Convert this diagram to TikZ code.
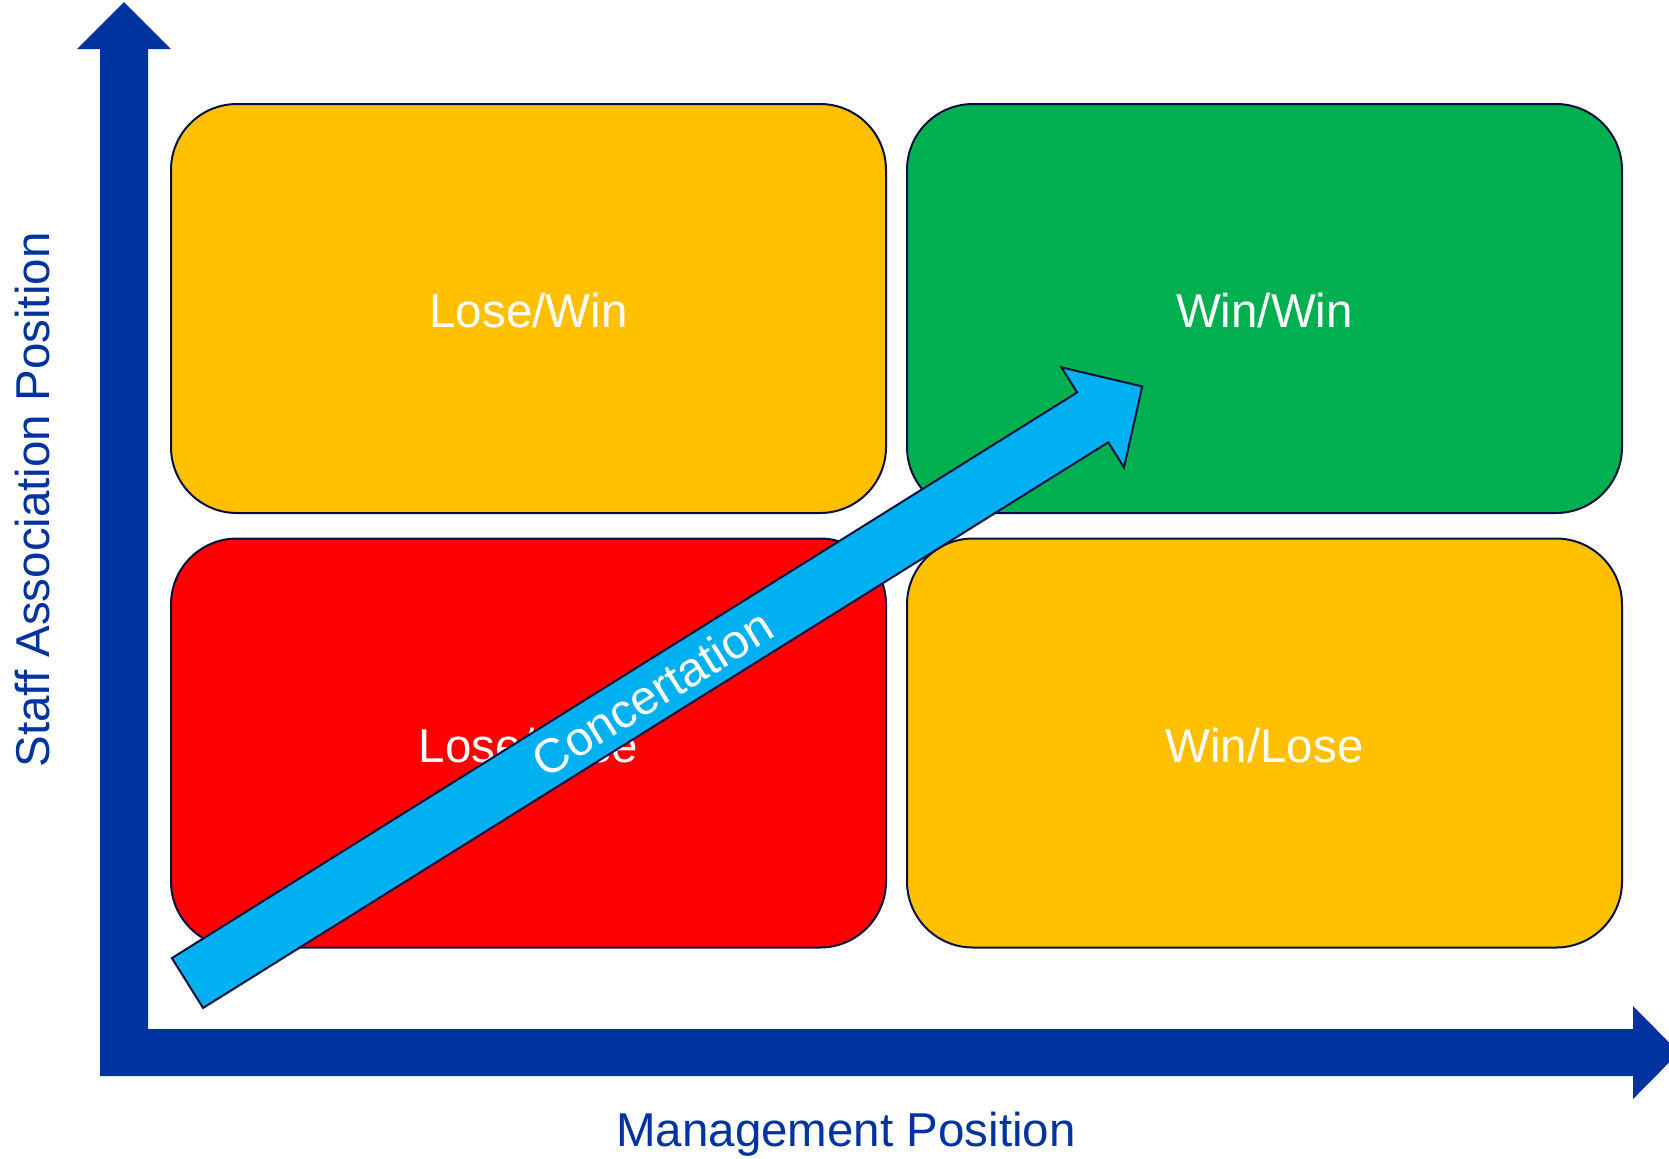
\documentclass[tikz,border=0pt]{standalone}
\usepackage{fontspec}
\setmainfont{Liberation Sans}
\usepackage{tikz}
\usepackage{xcolor}
\definecolor{axisblue}{RGB}{0,51,160}
\definecolor{navy}{RGB}{8,16,64}
\definecolor{amber}{RGB}{255,192,0}
\definecolor{leaf}{RGB}{0,176,80}
\definecolor{alarm}{RGB}{255,0,0}
\definecolor{sky}{RGB}{0,176,240}
\tikzstyle{quad} = [rectangle, draw = navy, line width = 1pt, rounded corners = 33pt, inner sep = 0pt, minimum width = 357.5pt, minimum height = 204.5pt, text height = 19pt, text depth = 0pt, text = white, font = \fontsize{23.75}{28}\selectfont]
\tikzstyle{concert} = [draw = navy, line width = 1pt, fill = sky]
\tikzstyle{axislabel} = [text = axisblue, inner sep = 0pt, font = \fontsize{23.75}{28}\selectfont]

\begin{document}
\begin{tikzpicture}[x = 0.5pt, y = -0.5pt]
        \useasboundingbox (0, 0) rectangle (1669, 1158);
        % axes
        \fill [axisblue] (100, 1076) -- (100, 49) -- (77, 49) -- (124, 2) -- (171, 49) -- (148, 49) -- (148, 1029) -- (1633, 1029) -- (1633, 1006) -- (1679, 1052.5) -- (1633, 1099) -- (1633, 1076) -- cycle;
        \node (ylab) at (33, 500) [axislabel, rotate = 90] {Staff Association Position};
        \node (xlab) at (846, 1146) [axislabel, anchor = base] {Management Position};
        % quadrants
        \node (lw) at (528.5, 308.5) [quad, fill = amber] {Lose/Win};
        \node (ww) at (1264.5, 308.5) [quad, fill = leaf] {Win/Win};
        \node (ll) at (528.5, 743) [quad, fill = alarm] {Lose/Lose};
        \node (wl) at (1264.5, 743) [quad, fill = amber] {Win/Lose};
        % concertation arrow
        \begin{scope}[shift = {(187.5, 983)}, rotate = 32]
            \draw [concert] (0, -29.4) -- (1067.4, -29.4) -- (1067.4, -59) -- (1125.8, 0) -- (1067.4, 59) -- (1067.4, 29.4) -- (0, 29.4) -- cycle;
            \node (conc) at (548, 0) [rotate = 32, text = white, font = \fontsize{24}{28}\selectfont] {Concertation};
        \end{scope}
    \end{tikzpicture}
\end{document}
